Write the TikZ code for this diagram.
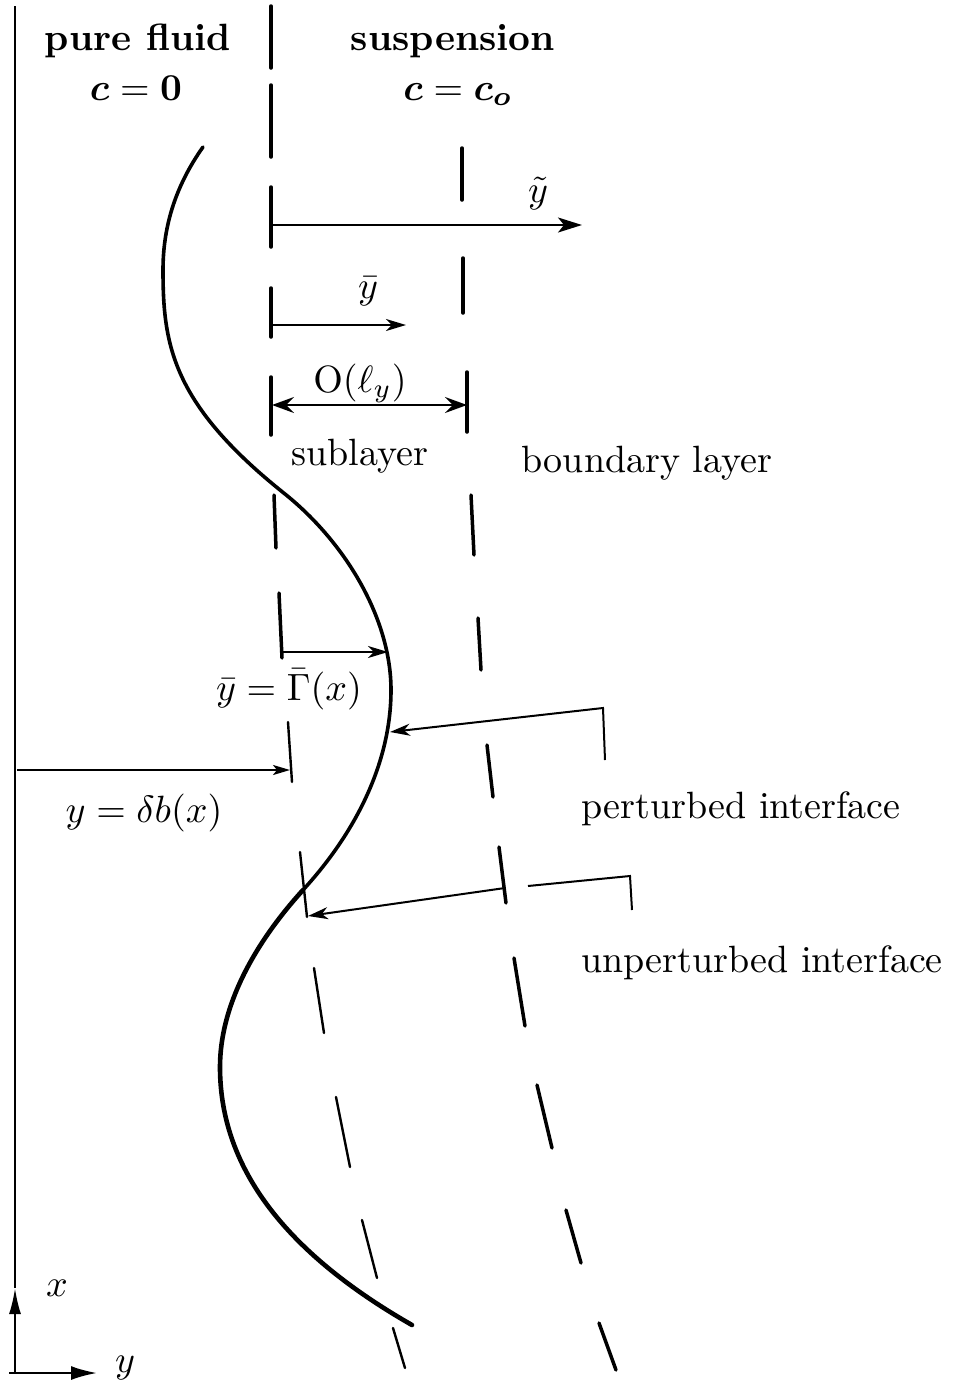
\documentclass[tikz,border=0pt]{standalone}
\usepackage{bm}
\usetikzlibrary{arrows.meta}
\begin{document}
\begin{tikzpicture}[x=1pt,y=-1pt,
  lbl/.style={scale=3.8, inner sep=0pt, anchor=base},
  thinline/.style={line width=2pt},
  dashseg/.style={line width=3.5pt, line cap=round},
  thindash/.style={line width=2.4pt, line cap=round},
  curveA/.style={line width=3.6pt, line cap=round},
  curveB/.style={line width=4.6pt, line cap=round},
  axis/.style={line width=2.2pt},
  bigtip/.style={-{Stealth[length=24pt,width=15pt,inset=6pt]}},
  midtip/.style={-{Stealth[length=20pt,width=12pt,inset=6pt]}},
  smalltip/.style={-{Stealth[length=17pt,width=10pt,inset=4pt]}},
  twotip/.style={{Stealth[length=22pt,width=16pt,inset=8pt]}-{Stealth[length=22pt,width=16pt,inset=8pt]}}]
\useasboundingbox (0,0) rectangle (953,1385);

% inner dashed line (unperturbed interface / sublayer edge)
\foreach \a/\b/\c/\d in {271/6/271/68, 271/85/271/157, 271/187/271/247, 271/288/271/337,
  271/377/271/435, 274/495/276/548, 279/593/282/658}
  \draw[dashseg] (\a,\b) -- (\c,\d);
\foreach \a/\b/\c/\d in {288/722/292/782, 300/852/307/917, 314/968/324/1033,
  336/1097/350/1167, 362/1220/377/1278, 393/1328/405/1368}
  \draw[thindash] (\a,\b) -- (\c,\d);

% outer dashed line (boundary layer edge)
\foreach \a/\b/\c/\d in {462/148/462/200, 463/258/463/313, 467/372/467/432,
  471/495/474/555, 478/618/481/670, 487/745/493/797, 499/847/506/903,
  514/958/525/1026, 537/1085/552/1148, 566/1210/581/1263, 599/1323/616/1370}
  \draw[dashseg] (\a,\b) -- (\c,\d);

% perturbed interface
\coordinate (k0) at (203,147);
\coordinate (k1) at (163,270);
\coordinate (k2) at (285,494);
\coordinate (k3) at (391,690);
\coordinate (k4) at (303,890);
\coordinate (k5) at (220,1067);
\coordinate (k6) at (412,1325);
\draw[curveA] (k0) .. controls (174,188) and (163,229) .. (k1)
  .. controls (163,345) and (172,404) .. (k2)
  .. controls (347,544) and (391,620) .. (k3)
  .. controls (391,760) and (358,830) .. (k4);
\draw[curveB] (k4) .. controls (253,945) and (220,1007) .. (k5)
  .. controls (220,1157) and (272,1245) .. (k6);

% named end points
\coordinate (wallTop) at (15,6);
\coordinate (wallBot) at (15,1373);
\coordinate (xTip) at (15,1288);
\coordinate (yStart) at (9,1373);
\coordinate (yTip) at (97,1373);
\coordinate (tyS) at (271,225);
\coordinate (tyE) at (582,225);
\coordinate (byS) at (271,325);
\coordinate (byE) at (406,325);
\coordinate (olL) at (272,405);
\coordinate (olR) at (467,405);
\coordinate (gS) at (282,652);
\coordinate (gE) at (388,652);
\coordinate (dbS) at (17,770);
\coordinate (dbE) at (290,770);
\coordinate (pA) at (605,760);
\coordinate (pB) at (603,708);
\coordinate (pE) at (390,732);
\coordinate (uA) at (632,910);
\coordinate (uB) at (630,876);
\coordinate (uC) at (528,886);
\coordinate (uD) at (505,888);
\coordinate (uE) at (308,916);

% axes
\draw[axis] (xTip) -- (wallTop);
\draw[axis, -{Latex[length=26pt,width=12pt]}] (wallBot) -- (xTip);
\draw[axis, -{Latex[length=26pt,width=14pt]}] (yStart) -- (yTip);

% arrows
\draw[thinline, bigtip] (tyS) -- (tyE);
\draw[thinline, midtip] (byS) -- (byE);
\draw[thinline, twotip] (olL) -- (olR);
\draw[thinline, midtip] (gS) -- (gE);
\draw[thinline, smalltip] (dbS) -- (dbE);
\draw[thinline, midtip] (pA) -- (pB) -- (pE);
\draw[thinline] (uA) -- (uB) -- (uC);
\draw[thinline, midtip] (uD) -- (uE);

% labels
\node[lbl, font=\bfseries] (pf) at (138,50) {pure fluid};
\node[lbl] (czero) at (136,100) {$\bm{c}=\mathbf{0}$};
\node[lbl, font=\bfseries] (susp) at (453,50) {suspension};
\node[lbl] (cco) at (458,100) {$\bm{c}=\bm{c_o}$};
\node[lbl] (ty) at (538,202) {$\tilde y$};
\node[lbl] (by) at (368,298) {$\bar y$};
\node[lbl] (ol) at (360,392) {$\mathrm{O}(\ell_y)$};
\node[lbl] (sub) at (360,465) {sublayer};
\node[lbl] (bl) at (647,472) {boundary layer};
\node[lbl] (gam) at (289,700) {$\bar y=\bar\Gamma(x)$};
\node[lbl] (db) at (144,822) {$y=\delta b(x)$};
\node[lbl] (pint) at (741,818) {perturbed interface};
\node[lbl] (uint) at (762,972) {unperturbed interface};
\node[lbl] (xl) at (57,1296) {$x$};
\node[lbl] (yl) at (125,1372) {$y$};
\end{tikzpicture}
\end{document}
